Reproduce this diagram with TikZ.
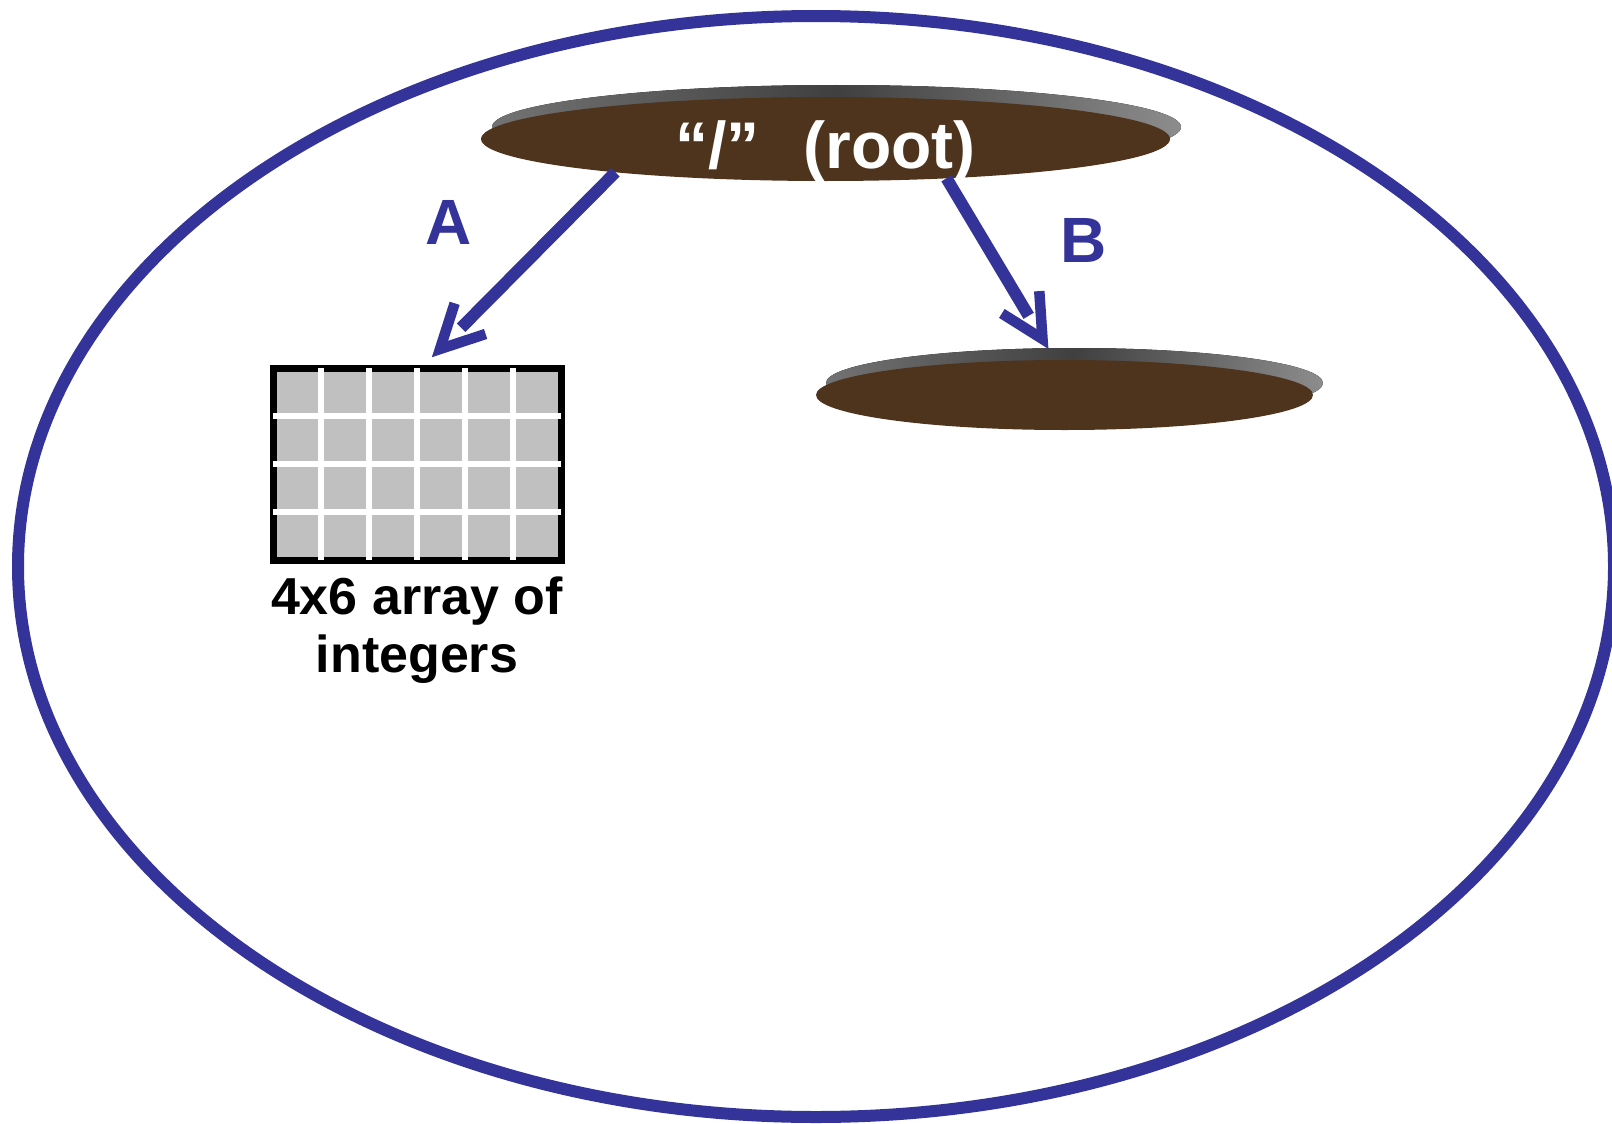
\documentclass[tikz,border=0pt]{standalone}
\usepackage{fontspec}
\setmainfont{Liberation Sans}
\usetikzlibrary{calc,positioning,shapes.geometric}

\definecolor{linkblue}{RGB}{51,51,153}
\definecolor{soil}{RGB}{79,52,29}
\definecolor{cellgray}{RGB}{192,192,192}

\begin{document}
\begin{tikzpicture}[x=1pt,y=1pt,
    disk/.style={ellipse, fill=soil, inner sep=0pt, outer sep=0pt},
    rim/.style={left color=black!55, right color=black!45, middle color=black!75},
    link/.style={draw=linkblue, line width=12pt},
    barb/.style={draw=linkblue, line width=10.5pt},
    linklabel/.style={text=linkblue, font=\fontsize{64}{70}\selectfont\bfseries},
    cellline/.style={draw=white, line width=6pt}]
    \useasboundingbox (0,0) rectangle (1612,-1124);

    % Outer region
    \draw[draw=linkblue, line width=12pt] (816,-566.5) ellipse [x radius=798, y radius=550.5];

    % Root directory, rim first
    \coordinate (rootc) at (825.5,-139);
    \fill[rim] ($(rootc)+(11,12)$) ellipse [x radius=344.5, y radius=42];
    \node[disk, minimum width=689pt, minimum height=84pt] (root) at (rootc) {};
    \node[text=white, font=\fontsize{66}{72}\selectfont\bfseries, anchor=base]
        (rootname) at ([yshift=-29pt]root.center) {“/”\hspace{44pt}(root)};

    % Sub directory
    \coordinate (subc) at (1064.5,-395);
    \fill[rim] ($(subc)+(10,12)$) ellipse [x radius=248.5, y radius=35];
    \node[disk, minimum width=497pt, minimum height=70pt] (sub) at (subc) {};

    % 4x6 array
    \node[draw=black, line width=7pt, fill=cellgray, minimum width=288pt,
        minimum height=192pt, outer sep=0pt] (grid) at (417,-464) {};
    \foreach \dx in {-96,-48,0,48,96}
        \draw[cellline] ([xshift=\dx]grid.north) -- ([xshift=\dx]grid.south);
    \foreach \dy in {-48,0,48}
        \draw[cellline] ([yshift=\dy]grid.west) -- ([yshift=\dy]grid.east);
    \node[below=17pt of grid, align=center, inner sep=0pt,
        font=\fontsize{52}{58}\selectfont\bfseries] (gridname) {4x6 array of\\integers};

    % Links A and B
    \coordinate (tipA) at ([xshift=23pt,yshift=19pt]grid.north);
    \coordinate (tipB) at ([xshift=-22pt,yshift=21pt]sub.north);
    \draw[link, shorten >=30pt] (root.189) -- (tipA);
    \draw[barb] ($(tipA)!48pt!27:(root.189)$) -- (tipA) -- ($(tipA)!48pt!-27:(root.189)$);
    \draw[link, shorten >=27pt] (root.342) -- (tipB);
    \draw[barb] ($(tipB)!48pt!27:(root.342)$) -- (tipB) -- ($(tipB)!48pt!-27:(root.342)$);
    \node[linklabel] (labA) at (449,-222) {A};
    \node[linklabel] (labB) at (1084,-240) {B};
\end{tikzpicture}
\end{document}
